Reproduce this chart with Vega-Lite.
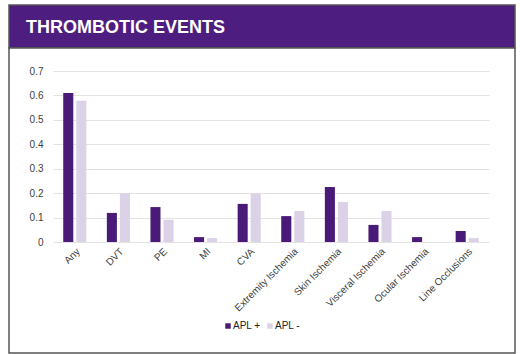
{
  "$schema": "https://vega.github.io/schema/vega-lite/v6.json",
  "background": "white",
  "padding": {"left": 8, "top": 4, "right": 6, "bottom": 2},
  "spacing": 0,
  "bounds": "flush",
  "config": {
    "font": "Liberation Sans",
    "concat": {"spacing": 0}
  },
  "vconcat": [
    {
      "width": 506,
      "height": 43,
      "view": {"fill": "#4E1D80", "stroke": "#555555", "strokeWidth": 1.5},
      "data": {"values": [{"title": "THROMBOTIC EVENTS"}]},
      "mark": {"type": "text", "align": "left", "baseline": "middle", "dx": 17, "dy": 1, "font": "Liberation Sans", "fontWeight": "bold", "fontSize": 18, "color": "white"},
      "encoding": {
        "x": {"datum": 0, "type": "quantitative", "scale": {"domain": [0, 1], "zero": false, "nice": false}, "axis": null},
        "text": {"field": "title"}
      }
    },
    {
      "width": 506,
      "height": 305,
      "view": {"fill": "white", "stroke": "#555555", "strokeWidth": 1.5},
      "data": {
        "values": [
          {"event": "Any", "group": "APL +", "value": 0.61},
          {"event": "Any", "group": "APL -", "value": 0.578},
          {"event": "DVT", "group": "APL +", "value": 0.119},
          {"event": "DVT", "group": "APL -", "value": 0.199},
          {"event": "PE", "group": "APL +", "value": 0.143},
          {"event": "PE", "group": "APL -", "value": 0.091},
          {"event": "MI", "group": "APL +", "value": 0.02},
          {"event": "MI", "group": "APL -", "value": 0.016},
          {"event": "CVA", "group": "APL +", "value": 0.156},
          {"event": "CVA", "group": "APL -", "value": 0.199},
          {"event": "Extremity Ischemia", "group": "APL +", "value": 0.106},
          {"event": "Extremity Ischemia", "group": "APL -", "value": 0.127},
          {"event": "Skin Ischemia", "group": "APL +", "value": 0.225},
          {"event": "Skin Ischemia", "group": "APL -", "value": 0.164},
          {"event": "Visceral Ischemia", "group": "APL +", "value": 0.07},
          {"event": "Visceral Ischemia", "group": "APL -", "value": 0.127},
          {"event": "Ocular Ischemia", "group": "APL +", "value": 0.02},
          {"event": "Ocular Ischemia", "group": "APL -", "value": 0},
          {"event": "Line Occlusions", "group": "APL +", "value": 0.045},
          {"event": "Line Occlusions", "group": "APL -", "value": 0.016}
        ]
      },
      "mark": {"type": "bar"},
      "encoding": {
        "x": {
          "field": "event",
          "type": "nominal",
          "sort": null,
          "scale": {"range": [44, 480], "paddingInner": 0.47, "paddingOuter": 0.235},
          "axis": {
            "title": null,
            "orient": "bottom",
            "offset": -111,
            "domain": false,
            "ticks": false,
            "grid": false,
            "labelAngle": -45,
            "labelPadding": 4,
            "labelFontSize": 10,
            "labelColor": "#404040",
            "labelFont": "Liberation Sans"
          }
        },
        "xOffset": {
          "field": "group",
          "type": "nominal",
          "scale": {"domain": ["APL +", "APL -"], "paddingInner": 0.23, "paddingOuter": 0}
        },
        "y": {
          "field": "value",
          "type": "quantitative",
          "scale": {"domain": [0, 0.7], "range": [194, 23], "nice": false},
          "axis": {
            "title": null,
            "orient": "left",
            "offset": -44,
            "values": [0, 0.1, 0.2, 0.3, 0.4, 0.5, 0.6, 0.7],
            "format": "~g",
            "domain": false,
            "ticks": false,
            "grid": true,
            "gridColor": "#e3e3e3",
            "gridWidth": 1,
            "labelPadding": 10,
            "labelFontSize": 10,
            "labelColor": "#404040",
            "labelFont": "Liberation Sans"
          }
        },
        "color": {
          "field": "group",
          "type": "nominal",
          "scale": {"domain": ["APL +", "APL -"], "range": ["#4A1A78", "#DBD2E7"]},
          "legend": {
            "title": null,
            "orient": "none",
            "legendX": 214,
            "legendY": 316,
            "direction": "horizontal",
            "symbolType": "square",
            "symbolSize": 30,
            "labelFontSize": 10,
            "labelColor": "#222222",
            "labelFont": "Liberation Sans",
            "columnPadding": 4,
            "labelOffset": 0
          }
        }
      }
    }
  ]
}
